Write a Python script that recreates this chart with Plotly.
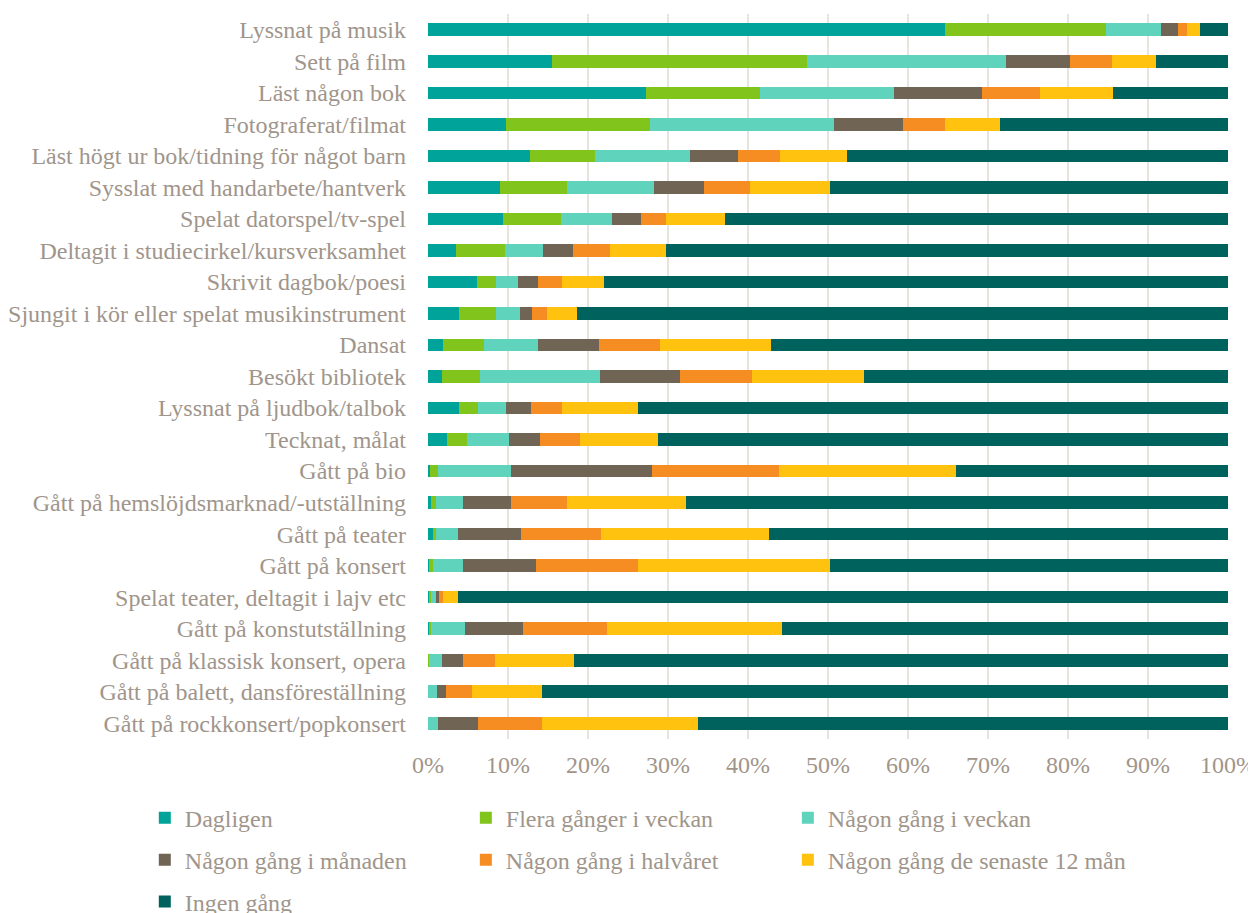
import plotly.graph_objects as go

categories = [
    "Lyssnat på musik",
    "Sett på film",
    "Läst någon bok",
    "Fotograferat/filmat",
    "Läst högt ur bok/tidning för något barn",
    "Sysslat med handarbete/hantverk",
    "Spelat datorspel/tv-spel",
    "Deltagit i studiecirkel/kursverksamhet",
    "Skrivit dagbok/poesi",
    "Sjungit i kör eller spelat musikinstrument",
    "Dansat",
    "Besökt bibliotek",
    "Lyssnat på ljudbok/talbok",
    "Tecknat, målat",
    "Gått på bio",
    "Gått på hemslöjdsmarknad/-utställning",
    "Gått på teater",
    "Gått på konsert",
    "Spelat teater, deltagit i lajv etc",
    "Gått på konstutställning",
    "Gått på klassisk konsert, opera",
    "Gått på balett, dansföreställning",
    "Gått på rockkonsert/popkonsert",
]

series_names = [
    "Dagligen",
    "Flera gånger i veckan",
    "Någon gång i veckan",
    "Någon gång i månaden",
    "Någon gång i halvåret",
    "Någon gång de senaste 12 mån",
    "Ingen gång",
]

dagligen = [64.6, 15.5, 27.3, 9.8, 12.7, 9.0, 9.4, 3.5, 6.1, 3.9, 1.9, 1.8, 3.9, 2.4, 0.2, 0.4, 0.6, 0.1, 0.1, 0.1, 0.0, 0.0, 0.0]
flera_ggr_veckan = [20.15, 31.9, 14.2, 17.95, 8.2, 8.4, 7.2, 6.1, 2.4, 4.6, 5.1, 4.65, 2.35, 2.5, 1.0, 0.6, 0.4, 0.5, 0.3, 0.3, 0.1, 0.0, 0.05]
ngn_gang_veckan = [6.85, 24.9, 16.7, 23.0, 11.9, 10.85, 6.4, 4.8, 2.8, 3.0, 6.7, 15.05, 3.45, 5.2, 9.2, 3.4, 2.8, 3.8, 0.55, 4.2, 1.6, 1.1, 1.25]
ngn_gang_manaden = [2.15, 7.95, 11.1, 8.65, 6.0, 6.25, 3.6, 3.7, 2.45, 1.5, 7.7, 10.0, 3.2, 3.9, 17.6, 6.0, 7.8, 9.1, 0.45, 7.3, 2.7, 1.1, 4.95]
ngn_gang_halvaret = [1.15, 5.25, 7.2, 5.2, 5.2, 5.75, 3.15, 4.65, 3.0, 1.9, 7.6, 9.0, 3.9, 5.0, 15.9, 7.0, 10.0, 12.75, 0.5, 10.5, 4.0, 3.3, 8.0]
senaste_12_man = [1.6, 5.5, 9.1, 6.9, 8.4, 10.0, 7.35, 7.05, 5.25, 3.7, 13.9, 14.0, 9.5, 9.7, 22.1, 14.9, 21.0, 23.95, 1.8, 21.8, 9.85, 8.8, 19.55]
ingen_gang = [3.5, 9.0, 14.4, 28.5, 47.6, 49.75, 62.9, 70.2, 78.0, 81.4, 57.1, 45.5, 73.7, 71.3, 34.0, 67.7, 57.4, 49.8, 96.3, 55.8, 81.75, 85.7, 66.2]

tick_vals = [0, 10, 20, 30, 40, 50, 60, 70, 80, 90, 100]
tick_text = ["0%", "10%", "20%", "30%", "40%", "50%", "60%", "70%", "80%", "90%", "100%"]

colors = ["#00A39A", "#80C41C", "#60D3BD", "#706455", "#F68D22", "#FFC20E", "#00625C"]
all_series = [dagligen, flera_ggr_veckan, ngn_gang_veckan, ngn_gang_manaden,
              ngn_gang_halvaret, senaste_12_man, ingen_gang]

text_color = "#A0958B"
font_family = "Liberation Serif, Times New Roman, serif"

# legend grid: 3 columns, 3 rows
legend_x = [-0.354, 0.0473, 0.4498]
legend_y = [-0.109, -0.167, -0.2248]

fig = go.Figure()
legend_layouts = {}
for i, (name, vals, col) in enumerate(zip(series_names, all_series, colors)):
    lg = "legend" if i == 0 else f"legend{i + 1}"
    fig.add_trace(go.Bar(
        y=categories, x=vals, name=name, orientation="h",
        marker=dict(color=col, line=dict(width=0)),
        legend=lg,
    ))
    legend_layouts[lg] = dict(
        x=legend_x[i % 3], y=legend_y[i // 3],
        orientation="h", xanchor="left", yanchor="middle",
        font=dict(family=font_family, size=24, color=text_color),
        bgcolor="rgba(0,0,0,0)", itemwidth=30,
    )

fig.update_layout(
    width=1248, height=905,
    barmode="stack", bargap=0.6,
    plot_bgcolor="white", paper_bgcolor="white",
    margin=dict(l=420, r=28, t=6, b=174, autoexpand=False),
    font=dict(family=font_family, size=24, color=text_color),
    xaxis=dict(
        range=[0, 100], tickvals=tick_vals, ticktext=tick_text,
        showgrid=True, gridcolor="#E7E3DF", gridwidth=1.5,
        zeroline=False, showline=False,
        tickfont=dict(family=font_family, size=24, color=text_color),
        ticks="", ticklabelstandoff=9, ticklabeloverflow="allow",
    ),
    yaxis=dict(
        autorange="reversed", showgrid=False, zeroline=False, showline=False,
        ticks="", ticklabelstandoff=21,
        tickfont=dict(family=font_family, size=24, color=text_color),
    ),
    showlegend=True,
    **legend_layouts,
)

fig.write_html("out.html")
